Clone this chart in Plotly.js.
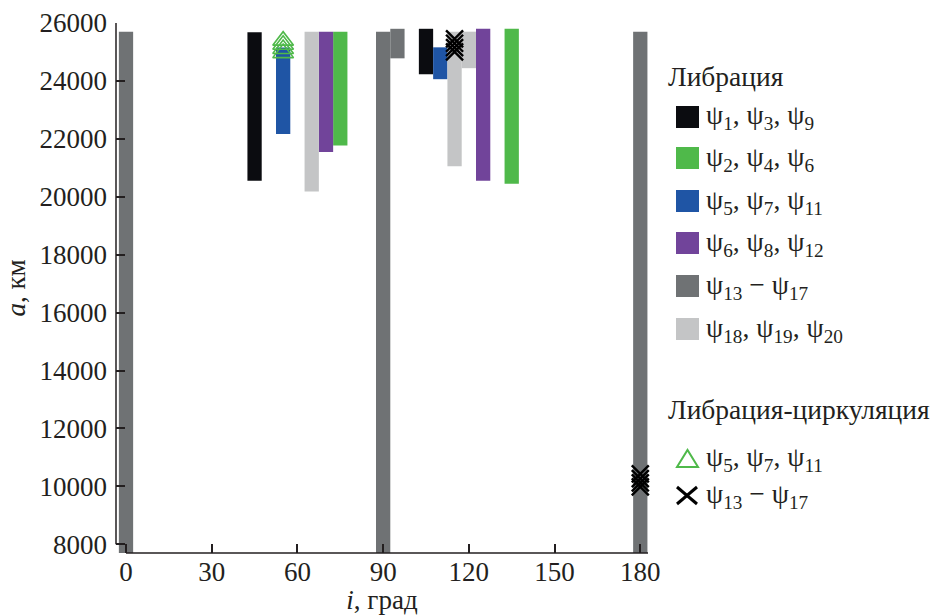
<!DOCTYPE html>
<html>
<head>
<meta charset="utf-8">
<script src="https://cdn.plot.ly/plotly-3.0.1.min.js"></script>
<style>html,body{margin:0;padding:0;background:#fff;}#chart{width:930px;height:615px;}</style>
</head>
<body>
<div id="chart"></div>
<script>
// ---------- data (inclination i in degrees, semi-major axis a in km) ----------
const xTickVals = [0, 30, 60, 90, 120, 150, 180];
const yTickVals = [8000, 10000, 12000, 14000, 16000, 18000, 20000, 22000, 24000, 26000];

// Libration regions: bar centre (deg), bottom (km), top (km)
const blackX = [45, 105];
const blackBottom = [20550, 24230];
const blackTop = [25680, 25800];

const greenX = [75, 135];
const greenBottom = [21770, 20450];
const greenTop = [25700, 25800];

const blueX = [55, 110];
const blueBottom = [22170, 24060];
const blueTop = [25150, 25160];

const purpleX = [70, 125];
const purpleBottom = [21550, 20550];
const purpleTop = [25700, 25800];

const darkGreyX = [0, 90, 95, 180];
const darkGreyBottom = [7700, 7700, 24780, 7700];
const darkGreyTop = [25700, 25700, 25800, 25700];

const lightGreyX = [65, 115, 120];
const lightGreyBottom = [20180, 21050, 24440];
const lightGreyTop = [25700, 25700, 25700];

// Libration-circulation points
const triX = [55, 55, 55, 55];
const triY = [25390, 25250, 25100, 24960];
const crossX = [115, 115, 115, 115, 180, 180, 180, 180];
const crossY = [25450, 25300, 25150, 25000, 10430, 10270, 10120, 9980];

// legend texts
const legendTitle1 = 'Либрация';
const legendTitle2 = 'Либрация-циркуляция';
const libLabels = [
  'ψ<sub>1</sub>, ψ<sub>3</sub>, ψ<sub>9</sub>',
  'ψ<sub>2</sub>, ψ<sub>4</sub>, ψ<sub>6</sub>',
  'ψ<sub>5</sub>, ψ<sub>7</sub>, ψ<sub>11</sub>',
  'ψ<sub>6</sub>, ψ<sub>8</sub>, ψ<sub>12</sub>',
  'ψ<sub>13</sub> − ψ<sub>17</sub>',
  'ψ<sub>18</sub>, ψ<sub>19</sub>, ψ<sub>20</sub>'
];
const circLabels = [
  'ψ<sub>5</sub>, ψ<sub>7</sub>, ψ<sub>11</sub>',
  'ψ<sub>13</sub> − ψ<sub>17</sub>'
];

// ---------- styles ----------
const COL = {
  black: '#0b0c10', green: '#4fb94a', blue: '#1f55a5',
  purple: '#71449a', dark: '#6f7274', light: '#c4c5c6'
};
const FONT = 'Liberation Serif';
const TXT = '#231f20';

function barTrace(xs, bottoms, tops, color) {
  return {
    type: 'bar', x: xs, base: bottoms,
    y: tops.map((t, k) => t - bottoms[k]),
    width: xs.map(() => 5),
    marker: {color: color, line: {width: 0}},
    showlegend: false, hoverinfo: 'skip'
  };
}

const traces = [
  barTrace(darkGreyX, darkGreyBottom, darkGreyTop, COL.dark),
  barTrace(blackX, blackBottom, blackTop, COL.black),
  barTrace(greenX, greenBottom, greenTop, COL.green),
  barTrace(blueX, blueBottom, blueTop, COL.blue),
  barTrace(purpleX, purpleBottom, purpleTop, COL.purple),
  barTrace(lightGreyX, lightGreyBottom, lightGreyTop, COL.light),
  {
    type: 'scatter', mode: 'markers', x: triX, y: triY,
    marker: {symbol: 'triangle-up-open', size: 18, color: COL.green, line: {width: 1.6, color: COL.green}},
    showlegend: false, hoverinfo: 'skip', cliponaxis: false
  },
  {
    type: 'scatter', mode: 'markers', x: crossX, y: crossY,
    marker: {symbol: 'x-thin-open', size: 17, color: '#000', line: {width: 2.4, color: '#000'}},
    showlegend: false, hoverinfo: 'skip', cliponaxis: false
  }
];

// ---------- manual legend (pixel -> paper helpers) ----------
const L = 116, R = 648, T = 23, B = 553;
const px2x = p => (p - L) / (R - L);
const py2y = p => (B - p) / (B - T);

const swatchColors = [COL.black, COL.green, COL.blue, COL.purple, COL.dark, COL.light];
const rowY = [117, 158, 201, 243, 286, 329];
const shapes = [];
const annotations = [];
const legFont = {family: FONT, size: 27.5, color: TXT};

annotations.push({xref: 'paper', yref: 'paper', x: px2x(666), y: py2y(77), xanchor: 'left', yanchor: 'middle',
  text: legendTitle1, showarrow: false, font: legFont});
swatchColors.forEach((c, k) => {
  shapes.push({type: 'rect', xref: 'paper', yref: 'paper', x0: px2x(676), x1: px2x(699),
    y0: py2y(rowY[k] + 11), y1: py2y(rowY[k] - 11), fillcolor: c, line: {width: 0}});
  annotations.push({xref: 'paper', yref: 'paper', x: px2x(704), y: py2y(rowY[k]), xanchor: 'left', yanchor: 'middle',
    text: libLabels[k], showarrow: false, font: legFont});
});
annotations.push({xref: 'paper', yref: 'paper', x: px2x(666), y: py2y(409), xanchor: 'left', yanchor: 'middle',
  text: legendTitle2, showarrow: false, font: legFont});
const circRowY = [458, 495];
// triangle symbol
shapes.push({type: 'path', xref: 'paper', yref: 'paper',
  path: 'M ' + px2x(677) + ' ' + py2y(467) + ' L ' + px2x(698) + ' ' + py2y(467) + ' L ' + px2x(687.5) + ' ' + py2y(450) + ' Z',
  line: {color: COL.green, width: 2}, fillcolor: 'rgba(0,0,0,0)'});
// cross symbol
shapes.push({type: 'line', xref: 'paper', yref: 'paper', x0: px2x(677), y0: py2y(487), x1: px2x(697), y1: py2y(504), line: {color: '#000', width: 3}});
shapes.push({type: 'line', xref: 'paper', yref: 'paper', x0: px2x(677), y0: py2y(504), x1: px2x(697), y1: py2y(487), line: {color: '#000', width: 3}});
circLabels.forEach((t, k) => {
  annotations.push({xref: 'paper', yref: 'paper', x: px2x(704), y: py2y(circRowY[k]), xanchor: 'left', yanchor: 'middle',
    text: t, showarrow: false, font: legFont});
});

// axis lines (detached style)
shapes.push({type: 'line', xref: 'paper', yref: 'y', x0: 0, x1: 0, y0: 8000, y1: 26000, line: {color: TXT, width: 1.5}, layer: 'above'});
shapes.push({type: 'line', xref: 'x', yref: 'paper', x0: 0, x1: 182.7, y0: 0, y1: 0, line: {color: TXT, width: 1.5}, layer: 'above'});

const layout = {
  width: 930, height: 615,
  margin: {l: L, r: 930 - R, t: T, b: 615 - B, pad: 0},
  paper_bgcolor: '#fff', plot_bgcolor: '#fff',
  barmode: 'overlay',
  showlegend: false,
  font: {family: FONT, size: 26, color: TXT},
  xaxis: {
    range: [-3.5, 182.7], tickvals: xTickVals, ticktext: xTickVals.map(String),
    ticks: 'inside', ticklen: 9, tickwidth: 1.5, tickcolor: TXT,
    showline: false, showgrid: false, zeroline: false,
    tickfont: {family: FONT, size: 27, color: TXT},
    title: {text: '<i>i</i>, град', font: {family: FONT, size: 27, color: TXT}, standoff: 4}
  },
  yaxis: {
    range: [7700, 26000], tickvals: yTickVals, ticktext: yTickVals.map(String),
    ticks: 'inside', ticklen: 9, tickwidth: 1.5, tickcolor: TXT,
    ticklabelstandoff: 8,
    showline: false, showgrid: false, zeroline: false,
    tickfont: {family: FONT, size: 27, color: TXT},
    title: {text: '<i>a</i>, км', font: {family: FONT, size: 27, color: TXT}, standoff: 6}
  },
  shapes: shapes,
  annotations: annotations
};

Plotly.newPlot('chart', traces, layout, {displayModeBar: false});
</script>
</body>
</html>
